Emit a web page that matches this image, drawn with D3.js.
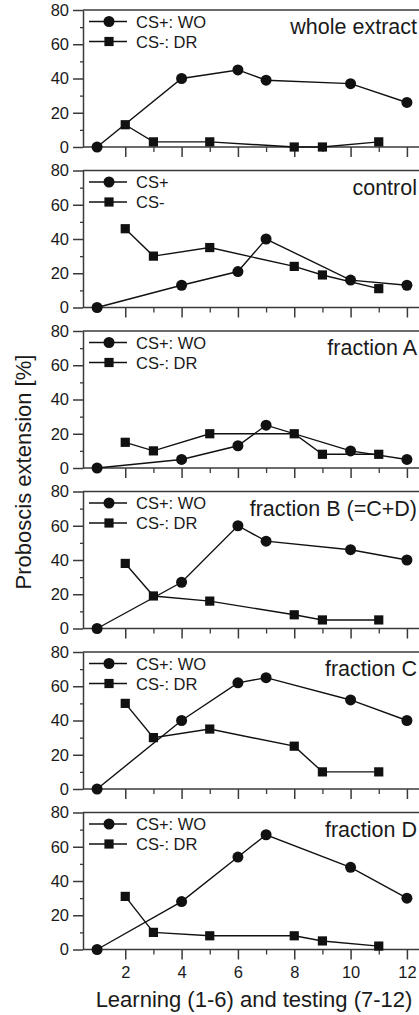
<!DOCTYPE html>
<html>
<head>
<meta charset="utf-8">
<script src="https://cdn.jsdelivr.net/npm/d3@7"></script>
<style>
  html, body { margin: 0; padding: 0; background: #fff; }
  svg text { font-family: "Liberation Sans", Arial, sans-serif; fill: #1a1a1a; }
</style>
</head>
<body>
<div id="wrapper"></div>
<script>
// trial numbers: CS+ and CS- were presented on alternating trials
const plusTrials = [1, 4, 6, 7, 10, 12];
const minusTrials = [2, 3, 5, 8, 9, 11];

const panelLabels = ["whole extract", "control", "fraction A", "fraction B (=C+D)", "fraction C", "fraction D"];
const plusLegend = ["CS+: WO", "CS+", "CS+: WO", "CS+: WO", "CS+: WO", "CS+: WO"];
const minusLegend = ["CS-: DR", "CS-", "CS-: DR", "CS-: DR", "CS-: DR", "CS-: DR"];

// proboscis extension [%]
const wholePlus = [0, 40, 45, 39, 37, 26];
const wholeMinus = [13, 3, 3, 0, 0, 3];
const controlPlus = [0, 13, 21, 40, 16, 13];
const controlMinus = [46, 30, 35, 24, 19, 11];
const fracAPlus = [0, 5, 13, 25, 10, 5];
const fracAMinus = [15, 10, 20, 20, 8, 8];
const fracBPlus = [0, 27, 60, 51, 46, 40];
const fracBMinus = [38, 19, 16, 8, 5, 5];
const fracCPlus = [0, 40, 62, 65, 52, 40];
const fracCMinus = [50, 30, 35, 25, 10, 10];
const fracDPlus = [0, 28, 54, 67, 48, 30];
const fracDMinus = [31, 10, 8, 8, 5, 2];

const plusSeries = [wholePlus, controlPlus, fracAPlus, fracBPlus, fracCPlus, fracDPlus];
const minusSeries = [wholeMinus, controlMinus, fracAMinus, fracBMinus, fracCMinus, fracDMinus];

const yTickLabels = [0, 20, 40, 60, 80];
const xTickLabels = [2, 4, 6, 8, 10, 12];

const dimensions = {
    width: 419,
    height: 1015,
    left: 83,
    right: 421,
    firstTop: 10,
    panelStep: 160.5,
    panelHeight: 137,
};

const svg = d3.select("#wrapper")
    .append("svg")
        .attr("width", dimensions.width)
        .attr("height", dimensions.height);

const xScale = d3.scaleLinear()
    .domain([0.5, 12.5])
    .range([dimensions.left, dimensions.right]);

const axisColor = "#3a3a3a";
const lineColor = "#111";

panelLabels.forEach((label, i) => {
    const top = dimensions.firstTop + i * dimensions.panelStep;
    const yScale = d3.scaleLinear()
        .domain([0, 80])
        .range([top + dimensions.panelHeight, top]);

    const g = svg.append("g");

    // top border
    g.append("line")
        .attr("x1", xScale(0.5)).attr("x2", dimensions.width)
        .attr("y1", yScale(80)).attr("y2", yScale(80))
        .attr("stroke", axisColor).attr("stroke-width", 1.5);

    // minor y ticks
    g.append("g")
        .attr("transform", `translate(${dimensions.left},0)`)
        .call(d3.axisLeft(yScale).tickValues([10, 30, 50, 70]).tickSize(3).tickFormat(""))
        .call(a => a.select(".domain").remove())
        .call(a => a.selectAll("line").attr("stroke", axisColor).attr("stroke-width", 1.3));

    // major y ticks
    g.append("g")
        .attr("transform", `translate(${dimensions.left},0)`)
        .call(d3.axisLeft(yScale).tickValues(yTickLabels).tickSize(10).tickSizeOuter(0).tickPadding(4))
        .call(a => a.select(".domain").attr("stroke", axisColor).attr("stroke-width", 1.5))
        .call(a => a.selectAll("line").attr("stroke", axisColor).attr("stroke-width", 1.5))
        .call(a => a.selectAll("text").attr("font-size", 16.5).attr("fill", "#1a1a1a"));

    // x axis: baseline, minor ticks at odd trials, major at even
    const xAxisG = g.append("g")
        .attr("transform", `translate(0,${yScale(0)})`);
    xAxisG.append("g")
        .call(d3.axisBottom(xScale).tickValues([1, 3, 5, 7, 9, 11]).tickSize(5).tickFormat(""))
        .call(a => a.select(".domain").remove())
        .call(a => a.selectAll("line").attr("stroke", axisColor).attr("stroke-width", 1.3));
    xAxisG.append("g")
        .call(d3.axisBottom(xScale).tickValues(xTickLabels).tickSize(10).tickSizeOuter(0).tickPadding(7)
            .tickFormat(i === panelLabels.length - 1 ? d3.format("d") : ""))
        .call(a => a.select(".domain").remove())
        .call(a => a.selectAll("line").attr("stroke", axisColor).attr("stroke-width", 1.5))
        .call(a => a.selectAll("text").attr("font-size", 16.5).attr("fill", "#1a1a1a"));
    g.append("line")
        .attr("x1", xScale(0.5)).attr("x2", dimensions.width)
        .attr("y1", yScale(0)).attr("y2", yScale(0))
        .attr("stroke", axisColor).attr("stroke-width", 1.5);

    const lineGenerator = d3.line()
        .x(dp => xScale(dp[0]))
        .y(dp => yScale(dp[1]));

    const plusData = plusTrials.map((t, k) => [t, plusSeries[i][k]]);
    const minusData = minusTrials.map((t, k) => [t, minusSeries[i][k]]);

    g.append("path")
        .attr("d", lineGenerator(minusData))
        .attr("fill", "none").attr("stroke", lineColor).attr("stroke-width", 1.4);
    g.append("path")
        .attr("d", lineGenerator(plusData))
        .attr("fill", "none").attr("stroke", lineColor).attr("stroke-width", 1.4);

    g.selectAll(".sq")
        .data(minusData)
        .join("rect")
            .attr("x", dp => xScale(dp[0]) - 4.6)
            .attr("y", dp => yScale(dp[1]) - 4.6)
            .attr("width", 9.2).attr("height", 9.2)
            .attr("fill", lineColor);
    g.selectAll(".dot")
        .data(plusData)
        .join("circle")
            .attr("cx", dp => xScale(dp[0]))
            .attr("cy", dp => yScale(dp[1]))
            .attr("r", 5.5)
            .attr("fill", lineColor);

    // legend
    const legendRows = [
        { text: plusLegend[i], shape: "circle", dy: 11.5 },
        { text: minusLegend[i], shape: "square", dy: 31.5 },
    ];
    legendRows.forEach(row => {
        const ly = top + row.dy;
        g.append("line")
            .attr("x1", 89).attr("x2", 127)
            .attr("y1", ly).attr("y2", ly)
            .attr("stroke", lineColor).attr("stroke-width", 1.4);
        if (row.shape === "circle") {
            g.append("circle").attr("cx", 109).attr("cy", ly).attr("r", 5.5).attr("fill", lineColor);
        } else {
            g.append("rect").attr("x", 104.4).attr("y", ly - 4.6).attr("width", 9.2).attr("height", 9.2).attr("fill", lineColor);
        }
        g.append("text")
            .attr("x", 136).attr("y", ly + 6)
            .attr("font-size", 16.5)
            .text(row.text);
    });

    g.append("text")
        .attr("x", 417)
        .attr("y", top + 24)
        .attr("text-anchor", "end")
        .attr("font-size", 21.5)
        .text(label);
});

// axis titles
svg.append("text")
    .attr("transform", "translate(31,472) rotate(-90)")
    .attr("text-anchor", "middle")
    .attr("font-size", 22)
    .text("Proboscis extension [%]");

svg.append("text")
    .attr("x", 254)
    .attr("y", 1007)
    .attr("text-anchor", "middle")
    .attr("font-size", 22)
    .text("Learning (1-6) and testing (7-12)");
</script>
</body>
</html>
